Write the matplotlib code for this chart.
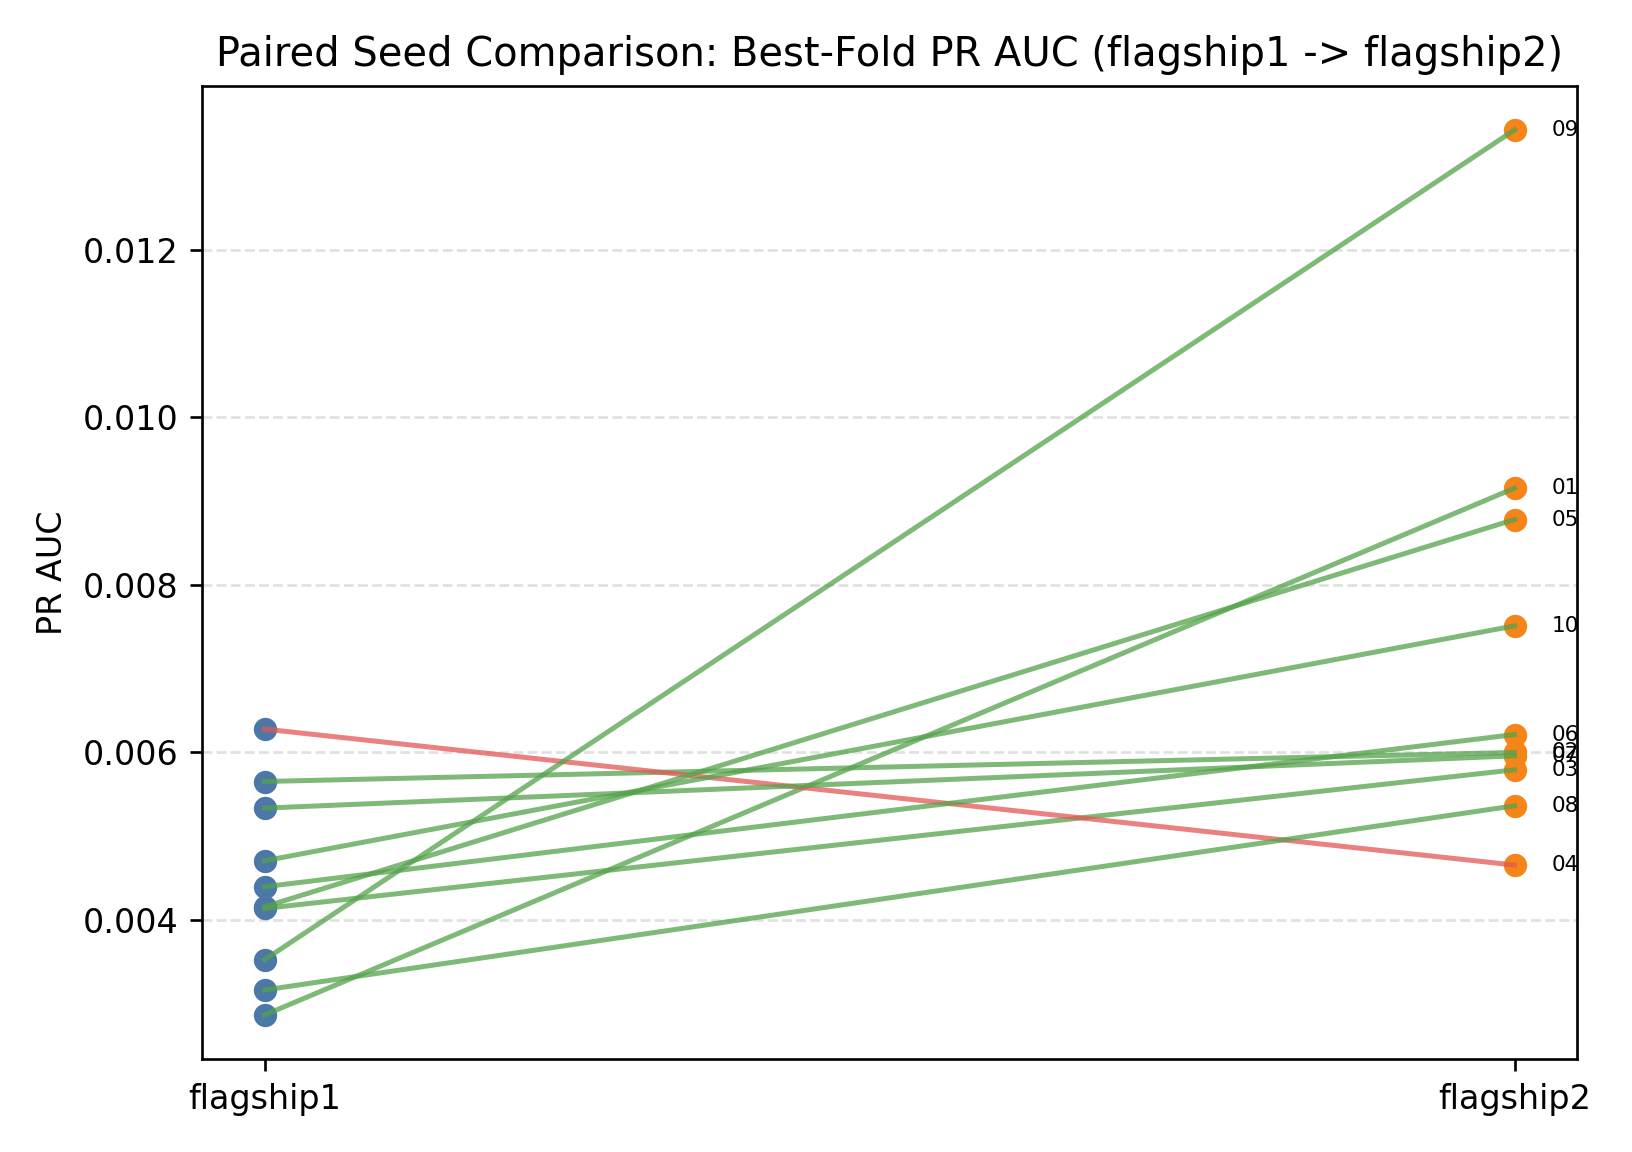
import matplotlib
matplotlib.use("Agg")
import matplotlib.pyplot as plt

seeds = ["01", "02", "03", "04", "05", "06", "07", "08", "09", "10"]
flagship1 = [0.002862, 0.005651, 0.004135, 0.006277, 0.004155,
             0.004394, 0.005333, 0.003161, 0.003522, 0.004704]
flagship2 = [0.009155, 0.005998, 0.005791, 0.004653, 0.008780,
             0.006212, 0.005958, 0.005361, 0.013433, 0.007510]
runs = ["flagship1", "flagship2"]

fig, ax = plt.subplots(figsize=(6.8, 4.8), dpi=240)
fig.subplots_adjust(left=0.1238, right=0.9663, bottom=0.0805, top=0.9256)

ax.scatter([0] * len(seeds), flagship1, color="#4C78A8", s=36, zorder=2)
ax.scatter([1] * len(seeds), flagship2, color="#F58518", s=36, zorder=2)

for s, a, b in zip(seeds, flagship1, flagship2):
    c = "#54A24B" if b >= a else "#E45756"
    ax.plot([0, 1], [a, b], color=c, alpha=0.75, lw=1.5, zorder=3)
    ax.text(1.03, b, s, fontsize=6.5, va="center", ha="left", clip_on=True)

ax.set_xticks([0, 1])
ax.set_xticklabels(runs)
ax.set_ylabel("PR AUC")
ax.set_title("Paired Seed Comparison: Best-Fold PR AUC (flagship1 -> flagship2)")
ax.grid(axis="y", linestyle="--", color="#cccccc", alpha=0.6)
ax.set_axisbelow(True)

fig.savefig("out.png")
